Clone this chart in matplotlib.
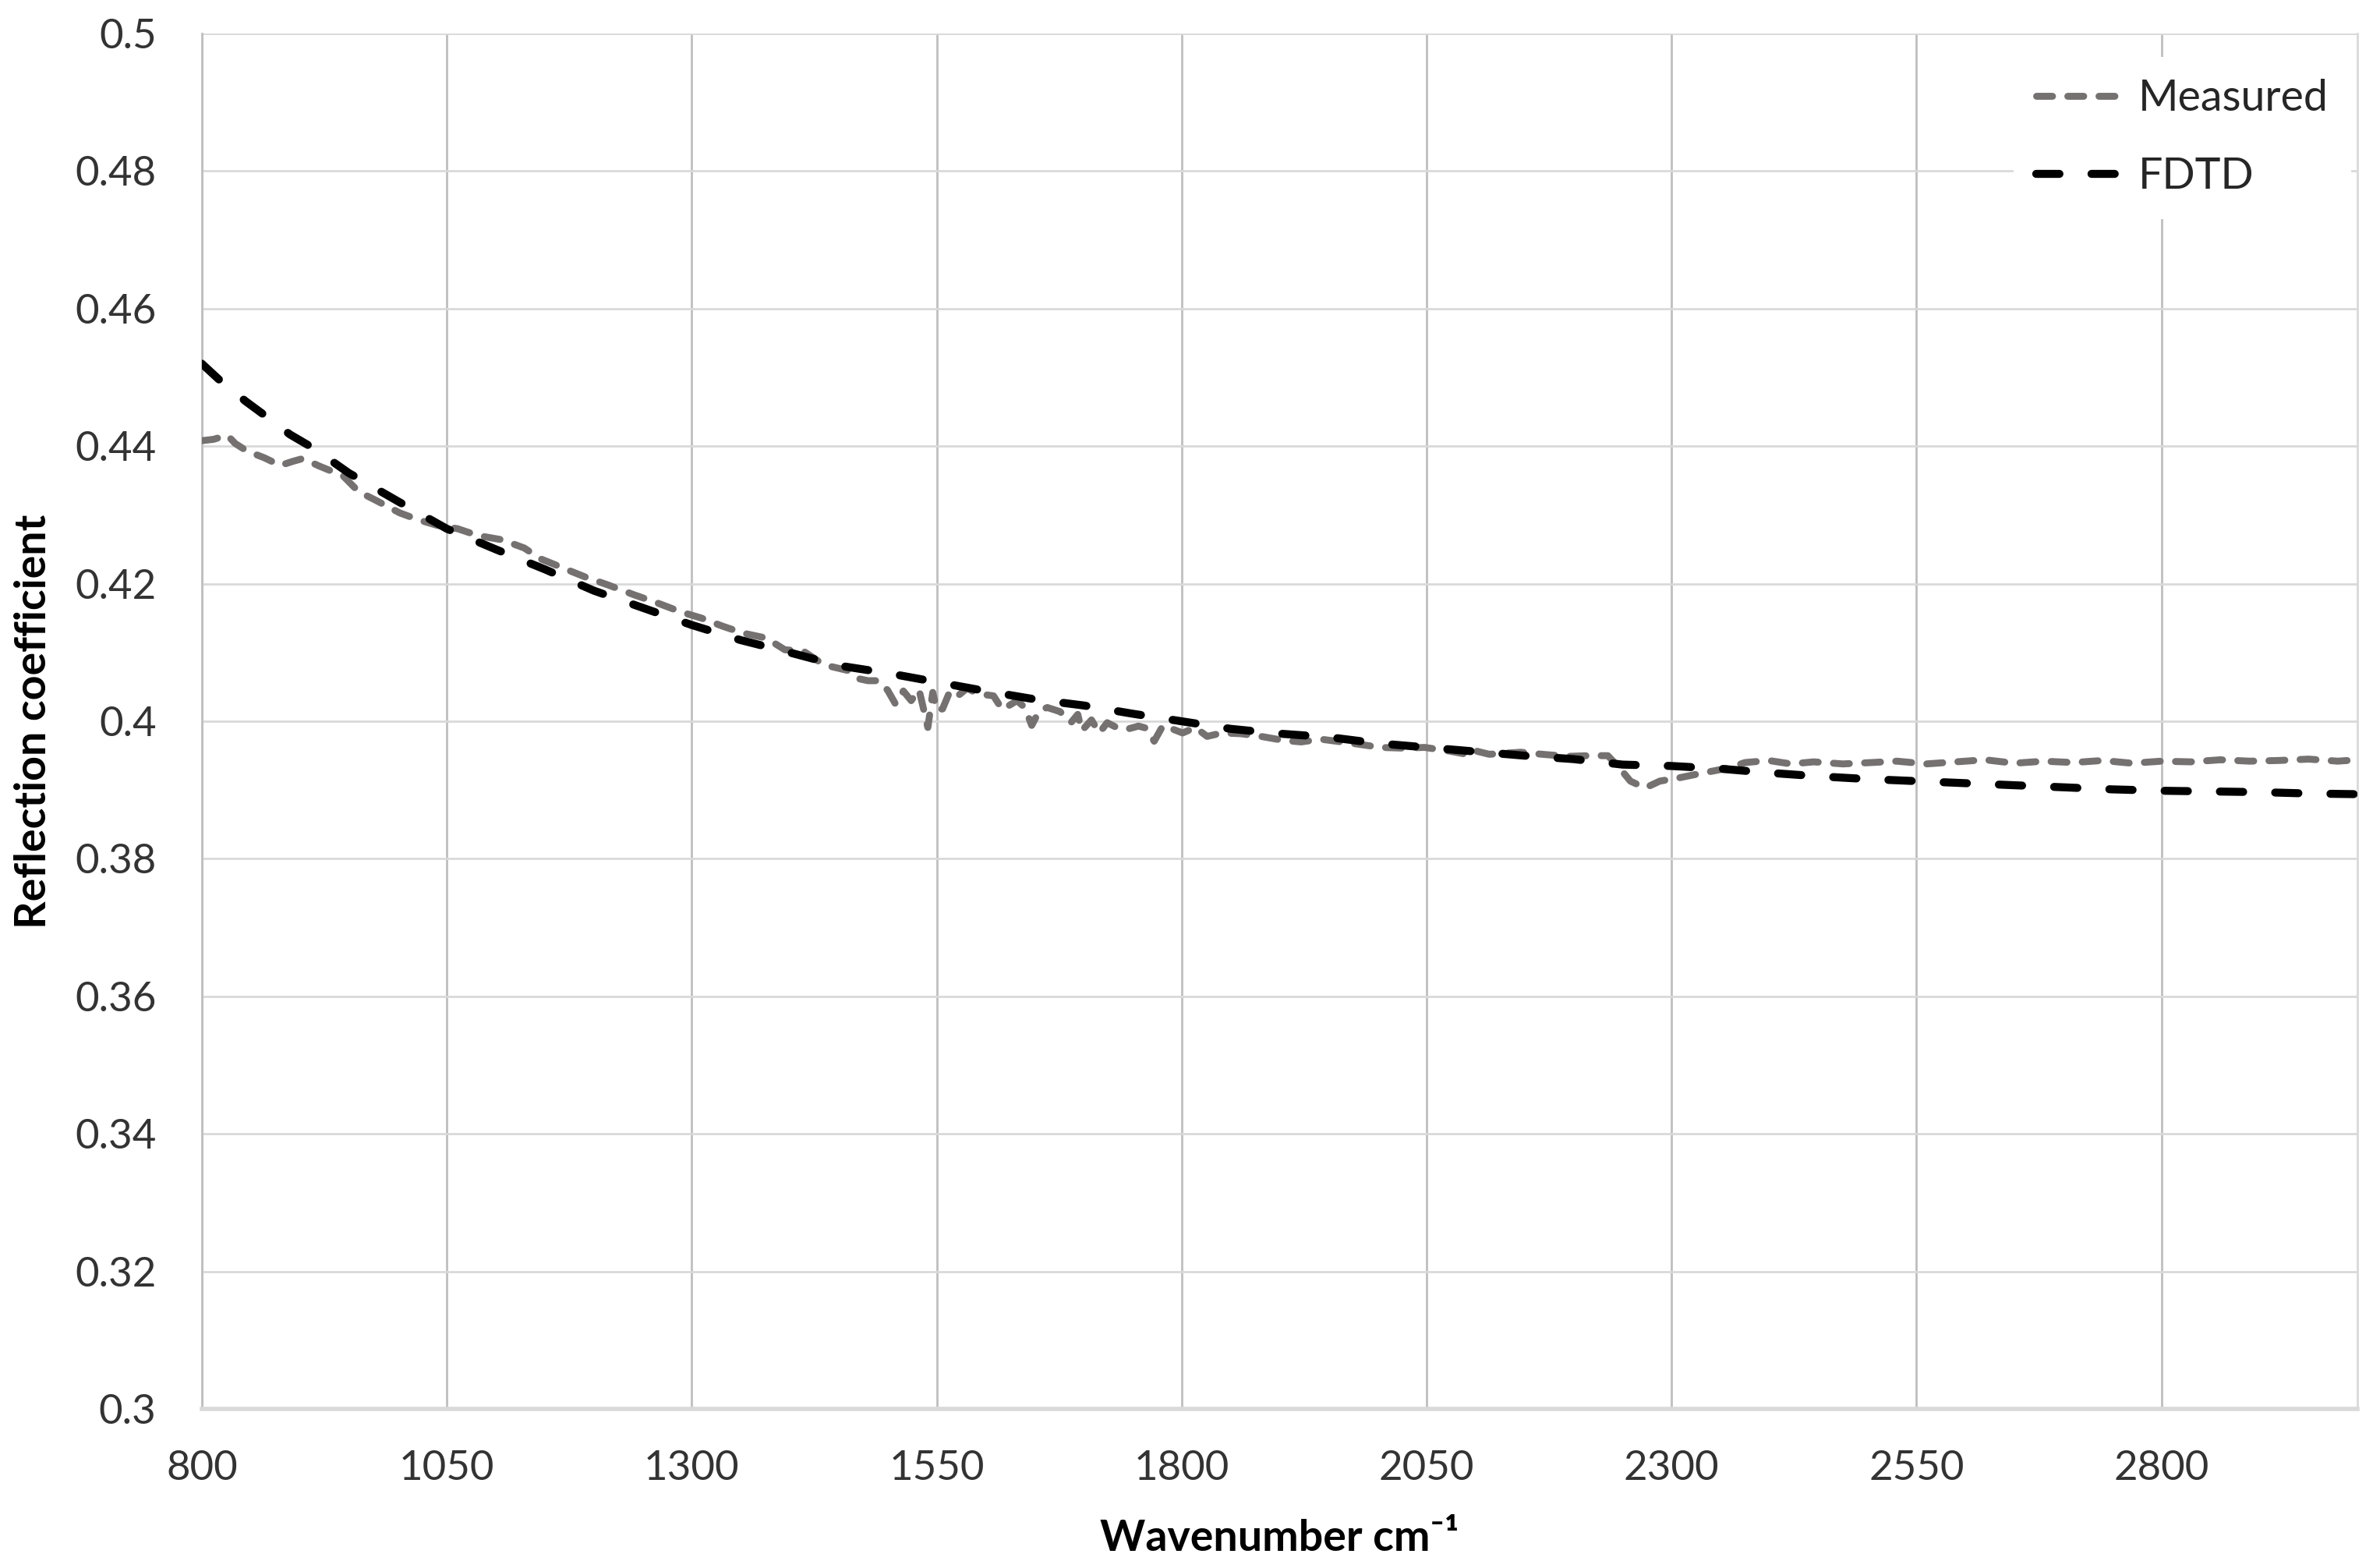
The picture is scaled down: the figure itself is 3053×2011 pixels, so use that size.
import matplotlib
matplotlib.use('Agg')
import matplotlib.pyplot as plt
from matplotlib.ticker import FuncFormatter, MultipleLocator

plt.rcParams['font.family'] = ['Lato', 'DejaVu Sans']

# measured spectrum
meas_x = [800, 812, 826, 834, 846, 864, 880, 893, 903, 920, 944, 960, 978, 1002,
          1021, 1040, 1061, 1082, 1106, 1129, 1146, 1160, 1177, 1191, 1215, 1241,
          1265, 1289, 1310, 1332, 1353, 1376, 1395, 1414, 1435, 1459, 1470, 1480,
          1491, 1500, 1508, 1516, 1524, 1532, 1541, 1546, 1550, 1556, 1563, 1570,
          1581, 1592, 1608, 1617, 1632, 1640, 1647, 1655, 1663, 1676, 1687, 1694,
          1698, 1708, 1716, 1724, 1735, 1743, 1756, 1764, 1772, 1781, 1801, 1814,
          1826, 1841, 1860, 1881, 1905, 1922, 1942, 1974, 2003, 2025, 2048, 2072,
          2091, 2097, 2114, 2146, 2168, 2194, 2216, 2235, 2247, 2258, 2273, 2288,
          2305, 2329, 2358, 2375, 2399, 2422, 2445, 2475, 2504, 2530, 2560, 2590,
          2620, 2650, 2680, 2710, 2740, 2770, 2800, 2830, 2860, 2890, 2920, 2950,
          2980, 3000]
meas_y = [0.4408, 0.4410, 0.4416, 0.4404, 0.4393, 0.4383, 0.4372, 0.4378, 0.4382,
          0.4371, 0.4357, 0.4334, 0.4321, 0.4303, 0.4293, 0.4285, 0.4280, 0.4270,
          0.4264, 0.4252, 0.4236, 0.4228, 0.4218, 0.4210, 0.4198, 0.4184, 0.4172,
          0.4159, 0.4150, 0.4138, 0.4128, 0.4121, 0.4104, 0.4102, 0.4082, 0.4074,
          0.4062, 0.4059, 0.4059, 0.4045, 0.4025, 0.4044, 0.4030, 0.4046, 0.3991,
          0.4042, 0.4016, 0.4018, 0.4042, 0.4035, 0.4048, 0.4040, 0.4037, 0.4017,
          0.4030, 0.4020, 0.3994, 0.4016, 0.4020, 0.4014, 0.3998, 0.4010, 0.3986,
          0.4002, 0.3983, 0.3998, 0.3990, 0.3988, 0.3993, 0.3990, 0.3971, 0.3994,
          0.3983, 0.3991, 0.3978, 0.3983, 0.3982, 0.3978, 0.3972, 0.3970, 0.3974,
          0.3968, 0.3962, 0.3961, 0.3962, 0.3957, 0.3952, 0.3958, 0.3952, 0.3955,
          0.3952, 0.3949, 0.3950, 0.3950, 0.3932, 0.3913, 0.3903, 0.3913, 0.3917,
          0.3924, 0.3932, 0.3940, 0.3943, 0.3938, 0.3941, 0.3938, 0.3940, 0.3942,
          0.3938, 0.3941, 0.3944, 0.3939, 0.3942, 0.3940, 0.3943, 0.3939, 0.3942,
          0.3941, 0.3944, 0.3942, 0.3943, 0.3945, 0.3942, 0.3944]

# FDTD simulation
fdtd_x = [800, 819, 845, 865, 890, 914, 950, 1000, 1050, 1100, 1150, 1200, 1250,
          1300, 1350, 1400, 1450, 1500, 1550, 1600, 1650, 1700, 1750, 1800, 1850,
          1900, 1950, 2000, 2050, 2100, 2150, 2200, 2250, 2300, 2350, 2400, 2450,
          2500, 2550, 2600, 2650, 2700, 2750, 2800, 2850, 2900, 2950, 3000]
fdtd_y = [0.4520, 0.4495, 0.4465, 0.4444, 0.4417, 0.4397, 0.4361, 0.4320, 0.4280,
          0.4250, 0.4221, 0.4190, 0.4165, 0.4140, 0.4118, 0.4100, 0.4081, 0.4070,
          0.4057, 0.4044, 0.4032, 0.4023, 0.4011, 0.4000, 0.3989, 0.3982, 0.3977,
          0.3968, 0.3962, 0.3956, 0.3950, 0.3945, 0.3937, 0.3935, 0.3931, 0.3925,
          0.3920, 0.3916, 0.3913, 0.3910, 0.3907, 0.3904, 0.3901, 0.3899, 0.3898,
          0.3897, 0.3895, 0.3894]

x_ticks = [800, 1050, 1300, 1550, 1800, 2050, 2300, 2550, 2800]

fig = plt.figure(figsize=(15.265, 10.055), dpi=200)
ax = fig.add_axes([0.0848, 0.1014, 0.9057, 0.8772])

ax.plot(meas_x, meas_y, color='#767171', lw=3.2, dashes=(2.3, 2.2),
        dash_capstyle='round', label='Measured', zorder=3)
ax.plot(fdtd_x, fdtd_y, color='black', lw=3.7, dashes=(2.9, 4.0),
        dash_capstyle='round', label='FDTD', zorder=4)

ax.set_xlim(800, 3000)
ax.set_ylim(0.3, 0.5)
ax.set_xticks(x_ticks)
ax.yaxis.set_major_locator(MultipleLocator(0.02))
ax.yaxis.set_major_formatter(FuncFormatter(lambda v, p: '{:g}'.format(round(v, 2))))

ax.grid(axis='x', color='#bfbfbf', lw=1.0)
ax.grid(axis='y', color='#d9d9d9', lw=1.0)
ax.set_axisbelow(True)
ax.tick_params(length=0, labelsize=19, labelcolor='#333333', pad=21)
ax.tick_params(axis='x', pad=19)

ax.spines['top'].set_visible(False)
ax.spines['left'].set_color('#bfbfbf')
ax.spines['left'].set_linewidth(1.0)
ax.spines['right'].set_color('#d9d9d9')
ax.spines['right'].set_linewidth(1.0)
ax.spines['bottom'].set_color('#d9d9d9')
ax.spines['bottom'].set_linewidth(2.0)

ax.set_xlabel('Wavenumber cm\u207b\u00b9', fontsize=20, fontweight='bold')
ax.set_ylabel('Reflection coefficient', fontsize=20, fontweight='bold')
ax.xaxis.set_label_coords(0.5, -0.080)
ax.yaxis.set_label_coords(-0.069, 0.5)

leg = ax.legend(loc='upper right', bbox_to_anchor=(1.007, 0.999), fontsize=20,
                frameon=True, facecolor='white', edgecolor='none', framealpha=1,
                fancybox=False, handlelength=2.0, handletextpad=0.35,
                labelspacing=0.88, borderpad=0.52)
for t in leg.get_texts():
    t.set_color('#262626')

fig.savefig('out.png', dpi=200)
